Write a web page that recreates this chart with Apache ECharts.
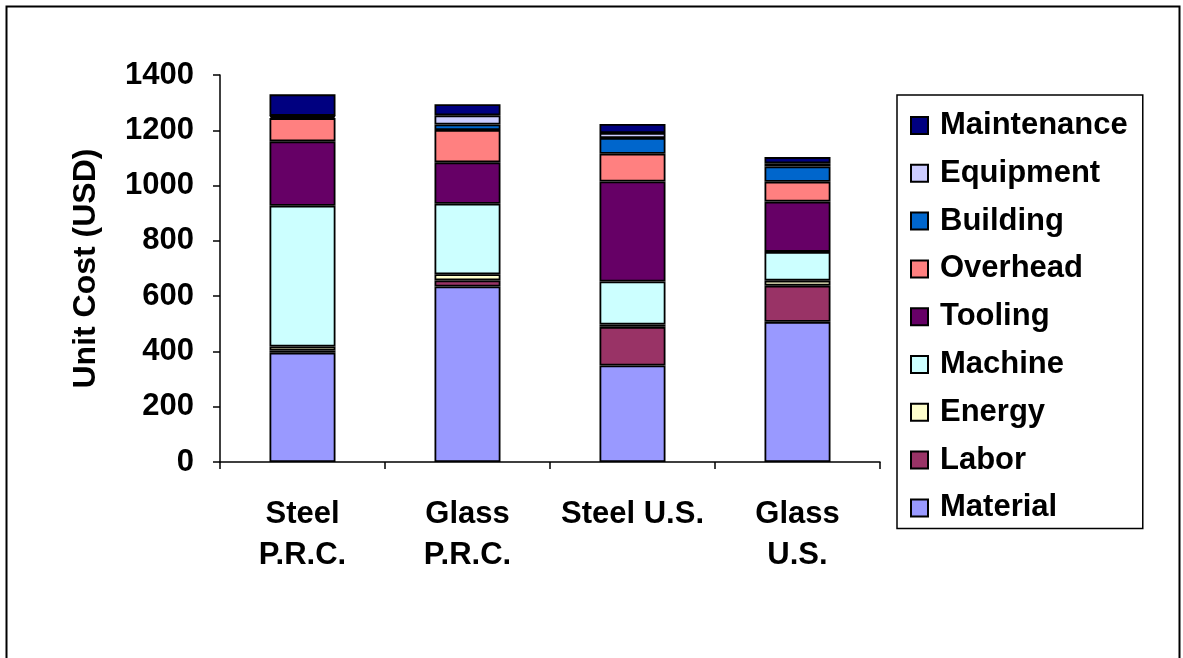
<!DOCTYPE html>
<html>
<head>
<meta charset="utf-8">
<script src="https://cdn.jsdelivr.net/npm/echarts@6/dist/echarts.min.js"></script>
<style>
  html, body { margin: 0; padding: 0; background: #fff; }
  #chart { width: 1183px; height: 658px; }
</style>
</head>
<body>
<div id="chart"></div>
<script>
// Unit cost breakdown per production scenario (USD)
var categories = ['Steel\nP.R.C.', 'Glass\nP.R.C.', 'Steel U.S.', 'Glass\nU.S.'];

var material    = [395, 635, 349, 507];
var labor       = [8, 22, 140, 131];
var energy      = [15, 22, 8, 18];
var machine     = [509, 255, 156, 104];
var tooling     = [233, 150, 362, 182];
var overhead    = [84, 117, 100, 72];
var building    = [6, 20, 57, 55];
var equipment   = [2, 33, 18, 12];
var maintenance = [78, 40, 33, 22];

var yTicks = { min: 0, max: 1400, interval: 200 };

// Stack order from bottom to top
var seriesDefs = [
  { name: 'Material',    data: material,    color: '#9999FF' },
  { name: 'Labor',       data: labor,       color: '#993366' },
  { name: 'Energy',      data: energy,      color: '#FFFFCC' },
  { name: 'Machine',     data: machine,     color: '#CCFFFF' },
  { name: 'Tooling',     data: tooling,     color: '#660066' },
  { name: 'Overhead',    data: overhead,    color: '#FF8080' },
  { name: 'Building',    data: building,    color: '#0066CC' },
  { name: 'Equipment',   data: equipment,   color: '#CCCCFF' },
  { name: 'Maintenance', data: maintenance, color: '#000080' }
];

var font = 'Liberation Sans, Arial, sans-serif';

var chart = echarts.init(document.getElementById('chart'));
chart.setOption({
  animation: false,
  backgroundColor: '#ffffff',
  graphic: [{
    type: 'rect',
    left: 4, top: 4,
    shape: { width: 1173, height: 660 },
    style: { fill: 'none', stroke: '#000', lineWidth: 2 },
    silent: true
  }],
  grid: { left: 220, top: 75, right: 303, bottom: 196, containLabel: false },
  legend: {
    orient: 'vertical',
    left: 897,
    top: 95,
    data: seriesDefs.map(function (s) { return s.name; }).reverse(),
    icon: 'rect',
    itemWidth: 17,
    itemHeight: 17,
    itemGap: 16.8,
    padding: [15, 15, 5, 13],
    borderColor: '#000',
    borderWidth: 1.5,
    textStyle: {
      fontFamily: font,
      fontWeight: 'bold',
      fontSize: 31,
      lineHeight: 30,
      color: '#000',
      padding: [0, 0, 0, 7]
    }
  },
  xAxis: {
    type: 'category',
    data: categories,
    axisLine: { lineStyle: { color: '#000', width: 1.5 } },
    axisTick: { show: true, alignWithLabel: false, length: 7, lineStyle: { color: '#000', width: 1.5 } },
    axisLabel: {
      interval: 0,
      margin: 32,
      fontFamily: font,
      fontWeight: 'bold',
      fontSize: 31,
      lineHeight: 41,
      color: '#000',
      verticalAlign: 'top'
    }
  },
  yAxis: {
    type: 'value',
    min: yTicks.min,
    max: yTicks.max,
    interval: yTicks.interval,
    name: 'Unit Cost (USD)',
    nameLocation: 'middle',
    nameGap: 118,
    nameTextStyle: { fontFamily: font, fontWeight: 'bold', fontSize: 32, color: '#000' },
    axisLine: { show: true, lineStyle: { color: '#000', width: 1.5 } },
    axisTick: { show: true, length: 7, lineStyle: { color: '#000', width: 1.5 } },
    splitLine: { show: false },
    axisLabel: {
      margin: 26,
      formatter: function (v) { return String(v); },
      fontFamily: font,
      fontWeight: 'bold',
      fontSize: 31,
      color: '#000'
    }
  },
  series: seriesDefs.map(function (s) {
    return {
      name: s.name,
      type: 'bar',
      stack: 'cost',
      barWidth: '40%',
      data: s.data,
      itemStyle: { color: s.color, borderColor: '#000', borderWidth: 1.8 },
      emphasis: { disabled: true }
    };
  })
});
</script>
</body>
</html>
